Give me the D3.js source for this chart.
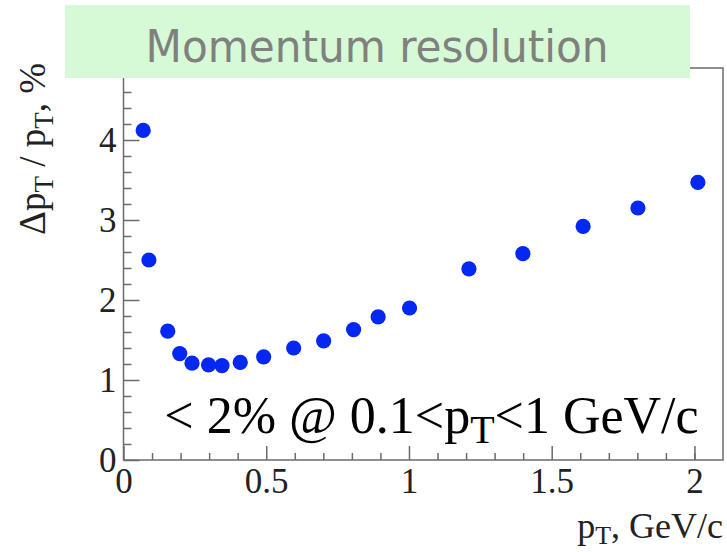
<!DOCTYPE html>
<html>
<head>
<meta charset="utf-8">
<script src="https://cdn.jsdelivr.net/npm/d3@7"></script>
<style>
  body { margin: 0; background: #fff; }
  svg { display: block; }
</style>
</head>
<body>
<svg id="viz"></svg>
<script>
  // data: pT (GeV/c) and resolution (%)
  const pt = [0.069, 0.089, 0.155, 0.197, 0.240, 0.298, 0.345, 0.409, 0.491, 0.596,
              0.701, 0.806, 0.892, 1.002, 1.210, 1.399, 1.610, 1.802, 2.012];
  const resolution = [4.12, 2.50, 1.61, 1.33, 1.21, 1.19, 1.18, 1.22, 1.29, 1.40,
                      1.49, 1.63, 1.79, 1.90, 2.39, 2.58, 2.92, 3.15, 3.47];

  const xMajorTicks = [0, 0.5, 1, 1.5, 2];
  const xMinorTicks = [0.1, 0.2, 0.3, 0.4, 0.6, 0.7, 0.8, 0.9, 1.1, 1.2, 1.3, 1.4, 1.6, 1.7, 1.8, 1.9, 2.0];
  const yMajorTicks = [0, 1, 2, 3, 4];
  const yMinorTicks = [0.2, 0.4, 0.6, 0.8, 1.2, 1.4, 1.6, 1.8, 2.2, 2.4, 2.6, 2.8,
                       3.2, 3.4, 3.6, 3.8, 4.2, 4.4, 4.6, 4.8];
  const xDomain = [0, 2.1];
  const yDomain = [0, 4.9];

  const titleText = 'Momentum resolution';

  const width = 727, height = 552;
  const margin = { top: 68, right: 4, bottom: 92, left: 123.5 };
  const innerW = width - margin.left - margin.right;
  const innerH = height - margin.top - margin.bottom;

  const svgRoot = d3.select('#viz')
    .attr('width', width)
    .attr('height', height)
    .attr('viewBox', `0 0 ${width} ${height}`);

  svgRoot.append('rect').attr('width', width).attr('height', height).attr('fill', '#fff');

  const svg = svgRoot.append('g').attr('transform', `translate(${margin.left},${margin.top})`);

  const x = d3.scaleLinear().domain(xDomain).range([0, innerW]);
  const y = d3.scaleLinear().domain(yDomain).range([innerH, 0]);

  const axisColor = '#6b6b6b';
  const serif = '"Liberation Serif", "Times New Roman", serif';

  // frame
  svg.append('rect')
    .attr('width', innerW)
    .attr('height', innerH)
    .attr('fill', 'none')
    .attr('stroke', axisColor)
    .attr('stroke-width', 1.5);

  function styleAxis(g) {
    g.select('.domain').remove();
    g.selectAll('line').attr('stroke', axisColor).attr('stroke-width', 1.5);
    g.selectAll('text')
      .attr('font-family', serif)
      .attr('font-size', 35)
      .attr('fill', '#222');
  }

  // x axis (ticks point inward)
  svg.append('g')
    .attr('transform', `translate(0,${innerH})`)
    .call(d3.axisBottom(x).tickValues(xMinorTicks).tickSize(-7).tickFormat(''))
    .call(styleAxis);
  svg.append('g')
    .attr('transform', `translate(0,${innerH})`)
    .call(d3.axisBottom(x).tickValues(xMajorTicks).tickSize(-14).tickPadding(8).tickFormat(d3.format('')))
    .call(styleAxis);

  // y axis
  svg.append('g')
    .call(d3.axisLeft(y).tickValues(yMinorTicks).tickSize(-8).tickFormat(''))
    .call(styleAxis);
  svg.append('g')
    .call(d3.axisLeft(y).tickValues(yMajorTicks).tickSize(-16).tickPadding(7).tickFormat(d3.format('')))
    .call(styleAxis);

  // points
  const points = pt.map((v, i) => ({ pt: v, res: resolution[i] }));
  svg.append('g')
    .selectAll('circle')
    .data(points)
    .join('circle')
    .attr('cx', d => x(d.pt))
    .attr('cy', d => y(d.res))
    .attr('r', 7.6)
    .attr('fill', '#0527f2');

  // annotation
  const note = svg.append('text')
    .attr('x', x(0.143))
    .attr('y', y(0.34))
    .attr('font-family', serif)
    .attr('font-size', 52)
    .attr('fill', '#000');
  note.append('tspan').text('< 2% @ 0.1<p');
  note.append('tspan').attr('font-size', 40).attr('dy', 10).text('T');
  note.append('tspan').attr('dy', -10).text('<1 GeV/c');

  // x axis title
  const xt = svgRoot.append('text')
    .attr('x', margin.left + innerW)
    .attr('y', 538)
    .attr('text-anchor', 'end')
    .attr('font-family', serif)
    .attr('font-size', 36)
    .attr('fill', '#222');
  xt.append('tspan').text('p');
  xt.append('tspan').attr('font-size', 26).attr('dy', 6).text('T');
  xt.append('tspan').attr('dy', -6).text(', GeV/c');

  // y axis title
  const yt = svgRoot.append('text')
    .attr('transform', `translate(45,${margin.top - 5}) rotate(-90)`)
    .attr('text-anchor', 'end')
    .attr('font-family', serif)
    .attr('font-size', 37)
    .attr('fill', '#222');
  yt.append('tspan').text('\u0394p');
  yt.append('tspan').attr('font-size', 27).attr('dy', 8).text('T');
  yt.append('tspan').attr('dy', -8).text(' / p');
  yt.append('tspan').attr('font-size', 27).attr('dy', 8).text('T');
  yt.append('tspan').attr('dy', -8).text(', %');

  // title banner
  svgRoot.append('rect')
    .attr('x', 65).attr('y', 5)
    .attr('width', 625).attr('height', 73)
    .attr('fill', '#d5fad5');
  svgRoot.append('text')
    .attr('x', 377)
    .attr('y', 62)
    .attr('text-anchor', 'middle')
    .attr('font-family', '"DejaVu Sans Condensed", "Liberation Sans Narrow", "DejaVu Sans", sans-serif')
    .attr('font-size', 44)
    .attr('textLength', 463)
    .attr('lengthAdjust', 'spacingAndGlyphs')
    .attr('fill', '#808080')
    .text(titleText);
</script>
</body>
</html>
